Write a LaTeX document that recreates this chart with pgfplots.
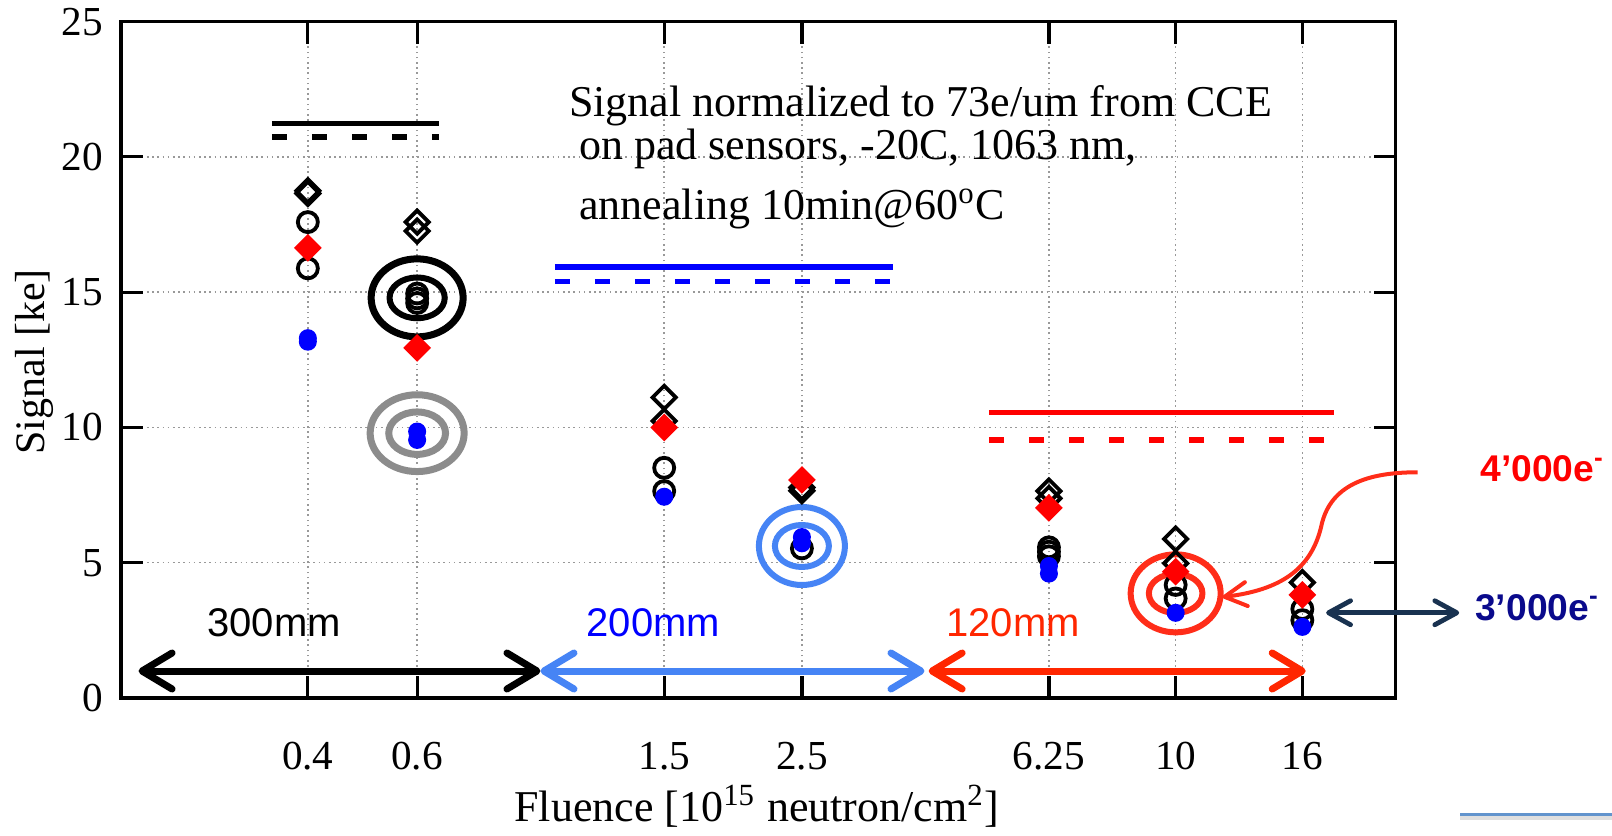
\documentclass[border=0pt]{standalone}
\usepackage{fontspec}
\setmainfont{Liberation Serif}
\newfontfamily\arial{Liberation Sans}
\usepackage{pgfplots}
\usepackage{pgfplotstable}
\pgfplotsset{compat=1.18}
\usetikzlibrary{arrows.meta}

\definecolor{lblue}{RGB}{70,132,245}
\definecolor{ared}{RGB}{255,38,0}
\definecolor{ellred}{RGB}{255,45,25}
\definecolor{ellgray}{RGB}{140,140,140}
\definecolor{navyt}{RGB}{10,10,140}
\definecolor{slate}{RGB}{25,50,80}
\definecolor{slideblue}{RGB}{98,148,205}

\tikzset{
  barb/.tip={Straight Barb[length=7.5pt,width=9pt,round]},
  sbarb/.tip={Straight Barb[length=5.5pt,width=6pt,round]},
}

% open diamonds (black)
\pgfplotstableread{
x y
0.4 18.65
0.4 18.75
0.6 17.59
0.6 17.26
1.5 11.11
1.5 10.24
2.5 7.78
2.5 7.66
6.25 7.65
6.25 7.38
10 5.88
10 4.98
16 4.27
}\opendia

% open circles (black)
\pgfplotstableread{
x y
0.4 17.59
0.4 15.88
0.6 14.95
0.6 14.77
0.6 14.60
1.5 8.51
1.5 7.65
2.5 5.53
6.25 5.57
6.25 5.41
6.25 5.24
10 4.18
10 3.68
16 3.29
16 2.88
}\opencirc

% filled diamonds (red)
\pgfplotstableread{
x y
0.4 16.64
0.6 12.94
1.5 10.00
2.5 8.06
6.25 7.03
10 4.67
16 3.81
}\reddia

% filled circles (blue)
\pgfplotstableread{
x y
0.4 13.30
0.4 13.17
0.6 9.85
0.6 9.54
1.5 7.44
2.5 5.95
2.5 5.72
6.25 4.88
6.25 4.60
10 3.15
16 2.63
}\bluedot

\begin{document}
\begin{tikzpicture}
\begin{axis}[
  scale only axis, width=318.6pt, height=169.1pt,
  xmode=log, xmin=0.2, xmax=22.6, ymin=0, ymax=25,
  xtick={0.4,0.6,1.5,2.5,6.25,10,16},
  xticklabels={0.4,0.6,1.5,2.5,6.25,10,16},
  minor xtick={},
  ytick={0,5,10,15,20,25},
  tick align=inside, major tick length=5.5pt,
  every tick/.style={black, line width=0.8pt},
  axis line style={line width=0.9pt},
  grid=major,
  major grid style={gray!80, line width=0.35pt, dash pattern=on 0.4pt off 0.9pt},
  tick label style={font=\fontsize{10.3}{12}\selectfont},
  /pgf/number format/assume math mode=true,
  xticklabel style={yshift=-7.5pt},
  yticklabel style={xshift=-1pt},
  xlabel={Fluence [10\textsuperscript{15} neutron/cm\textsuperscript{2}]},
  ylabel={Signal [ke]},
  xlabel style={font=\fontsize{11}{13}\selectfont, at={(rel axis cs:0.499,-0.16)}, anchor=center},
  ylabel style={font=\fontsize{10.5}{12}\selectfont, at={(rel axis cs:-0.0675,0.497)}, anchor=center},
  clip=false,
]

% reference levels
\addplot[black, line width=1.4pt, no marks] coordinates {(0.35,21.24) (0.65,21.24)};
\addplot[black, line width=1.4pt, dash pattern=on 3.8pt off 6.2pt, no marks] coordinates {(0.35,20.74) (0.65,20.74)};
\addplot[blue, line width=1.4pt, no marks] coordinates {(1.0,15.92) (3.5,15.92)};
\addplot[blue, line width=1.4pt, dash pattern=on 3.8pt off 6.2pt, no marks] coordinates {(1.0,15.39) (3.5,15.39)};
\addplot[red, line width=1.4pt, no marks] coordinates {(5.0,10.56) (18,10.56)};
\addplot[red, line width=1.4pt, dash pattern=on 3.8pt off 6.2pt, no marks] coordinates {(5.0,9.53) (18,9.53)};

% thickness ranges
\addplot[black, line width=1.75pt, barb-barb] coordinates {(0.2135,1) (0.948,1)};
\addplot[lblue, line width=1.75pt, barb-barb] coordinates {(0.948,1) (3.94,1)};
\addplot[ared, line width=1.75pt, barb-barb] coordinates {(4.0,1) (16.2,1)};

% measurements
\addplot[only marks, mark=square, mark size=2.05pt, mark options={rotate=45, line width=0.95pt, black}] table {\opendia};
\addplot[only marks, mark=o, mark size=2.5pt, mark options={line width=0.95pt, black}] table {\opencirc};
\addplot[only marks, mark=square*, mark size=2.25pt, mark options={rotate=45, fill=red, draw=red}] table {\reddia};
\addplot[only marks, mark=*, mark size=2.05pt, mark options={fill=blue, draw=blue}] table {\bluedot};

% highlight ellipses
\draw[black, line width=1.75pt] (axis cs:0.6,14.79) ellipse [x radius=11.5pt, y radius=9.75pt];
\draw[black, line width=1.5pt] (axis cs:0.6,14.79) ellipse [x radius=6.9pt, y radius=5.1pt];
\draw[ellgray, line width=1.75pt] (axis cs:0.6,9.79) ellipse [x radius=11.75pt, y radius=9.6pt];
\draw[ellgray, line width=1.75pt] (axis cs:0.6,9.79) ellipse [x radius=7.1pt, y radius=5.3pt];
\draw[lblue, line width=1.5pt] (axis cs:2.5,5.62) ellipse [x radius=10.75pt, y radius=9.75pt];
\draw[lblue, line width=1.5pt] (axis cs:2.5,5.62) ellipse [x radius=6.75pt, y radius=5.25pt];
\draw[ellred, line width=1.5pt] (axis cs:10,3.87) ellipse [x radius=11.25pt, y radius=9.75pt];
\draw[ellred, line width=1.5pt] (axis cs:10,3.87) ellipse [x radius=6.7pt, y radius=4.9pt];

% texts
\node[anchor=base west, inner sep=0, font=\fontsize{11}{13}\selectfont] at (rel axis cs:0.351,0.860) {Signal normalized to 73e/um from CCE};
\node[anchor=base west, inner sep=0, font=\fontsize{11}{13}\selectfont] at (rel axis cs:0.359,0.796) {on pad sensors, -20C, 1063 nm,};
\node[anchor=base west, inner sep=0, font=\fontsize{11}{13}\selectfont] at (rel axis cs:0.359,0.708) {annealing 10min@60\textsuperscript{o}C};

\node[anchor=base west, inner sep=0, font=\arial\fontsize{10}{12}\selectfont] at (rel axis cs:0.0672,0.0917) {300mm};
\node[anchor=base west, inner sep=0, text=blue, font=\arial\fontsize{10}{12}\selectfont] at (rel axis cs:0.3647,0.0917) {200mm};
\node[anchor=base west, inner sep=0, text=ared, font=\arial\fontsize{10}{12}\selectfont] at (rel axis cs:0.647,0.0917) {120mm};

\node[anchor=base west, inner sep=0, text=red, font=\arial\bfseries\fontsize{9.3}{11}\selectfont] at (rel axis cs:1.066,0.320) {4’000e\textsuperscript{-}};
\node[anchor=base west, inner sep=0, text=navyt, font=\arial\bfseries\fontsize{9.3}{11}\selectfont] at (rel axis cs:1.062,0.1153) {3’000e\textsuperscript{-}};

\draw[slate, line width=1.2pt, sbarb-sbarb] (rel axis cs:0.9456,0.1261) -- (rel axis cs:1.050,0.1261);
\draw[ellred, line width=1pt, -sbarb] (rel axis cs:1.0173,0.3337) .. controls (rel axis cs:0.9718,0.3341) and (rel axis cs:0.9482,0.3075) .. (rel axis cs:0.942,0.2558) .. controls (rel axis cs:0.9341,0.1892) and (rel axis cs:0.909,0.1597) .. (rel axis cs:0.8643,0.1493);

\draw[slideblue, line width=1.25pt] (rel axis cs:1.051,-0.173) -- (rel axis cs:1.1699,-0.173);
\draw[gray!25, line width=1pt] (rel axis cs:1.051,-0.1775) -- (rel axis cs:1.1699,-0.1775);

\coordinate (bbll) at (rel axis cs:-0.0949,-0.2025);
\coordinate (bbur) at (rel axis cs:1.1699,1.0319);
\end{axis}
\pgfresetboundingbox
\path (bbll) rectangle (bbur);
\end{tikzpicture}
\end{document}
